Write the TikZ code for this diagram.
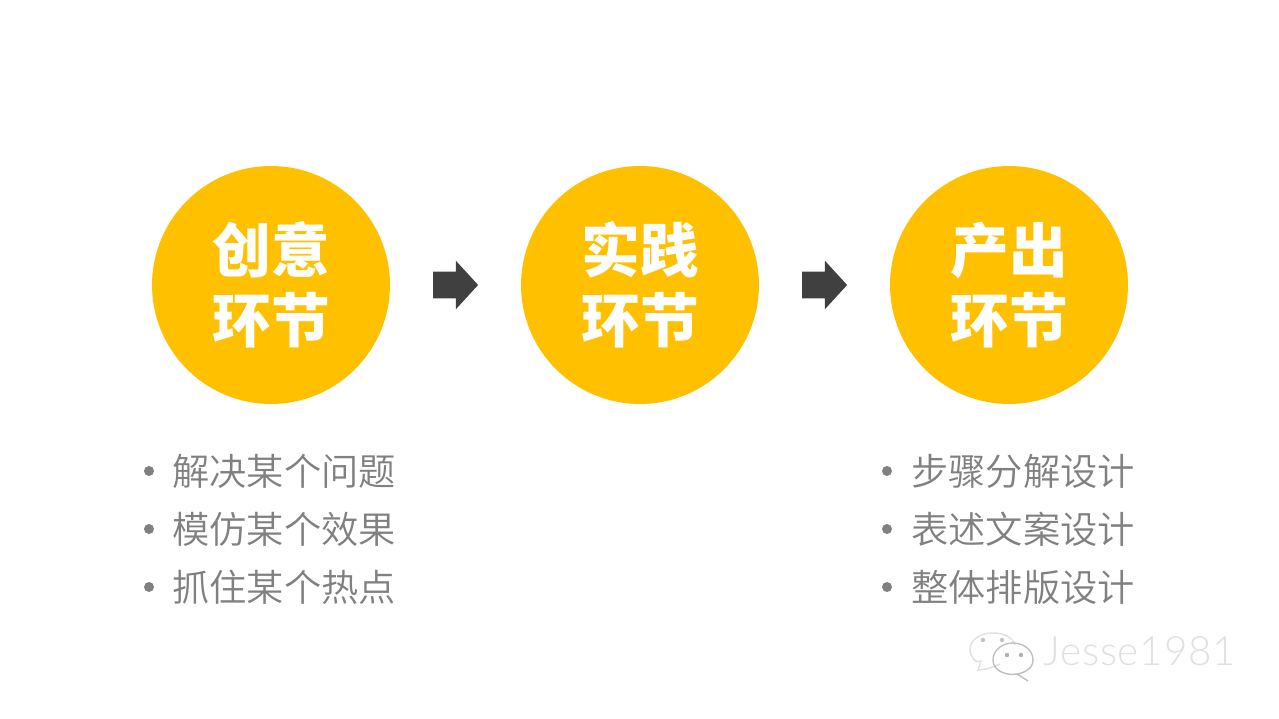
\documentclass[tikz,border=0pt]{standalone}
\usepackage{fontspec}
\setmainfont{Noto Sans CJK SC}
\newfontfamily\cjkheavy{Noto Sans CJK SC}[UprightFont=* Black]
\newfontfamily\cjklight{Noto Sans CJK SC}[UprightFont=* DemiLight]
\newfontfamily\markfont{Lato}[UprightFont=* Light,LetterSpace=2]
\usetikzlibrary{shapes.arrows}
\definecolor{stepyellow}{HTML}{FFC000}
\definecolor{listgray}{HTML}{808080}
\definecolor{arrowgray}{HTML}{404040}
\definecolor{markgray}{HTML}{E0E0E0}

\begin{document}
\begin{tikzpicture}[x=.02cm,y=-.02cm,
stepnode/.style={circle,fill=stepyellow,text=white,minimum size=4.76cm,inner sep=0pt,align=center,
font=\cjkheavy\fontsize{33.4}{39.8}\selectfont},
blockarrow/.style={single arrow,fill=arrowgray,inner sep=0pt,text height=.52cm,text depth=0pt,text width=0pt,
minimum height=.9cm,minimum width=.96cm,
single arrow head extend=.22cm,single arrow tip angle=95,single arrow head indent=0pt},
listitem/.style={anchor=west,inner sep=0pt,text=listgray,font=\cjklight\fontsize{21.2}{25}\selectfont},
listdot/.style={circle,fill=listgray,inner sep=0pt,minimum size=.2cm},
]
\useasboundingbox (0,0) rectangle (1279,719);
\node[stepnode] (C1) at (271,285) {创意\\环节};
\node[stepnode] (C2) at (640,285) {实践\\环节};
\node[stepnode] (C3) at (1009,285) {产出\\环节};
\node[blockarrow] (A1) at (449.5,285) {};
\node[blockarrow] (A2) at (818.5,285) {};
\node[listdot] (D1) at (149,471) {};
\node[listdot] (D2) at (149,529) {};
\node[listdot] (D3) at (149,587) {};
\node[listdot] (D4) at (887,471) {};
\node[listdot] (D5) at (887,529) {};
\node[listdot] (D6) at (887,587) {};
\node[listitem] (L1) at (172,471) {解决某个问题};
\node[listitem] (L2) at (172,529) {模仿某个效果};
\node[listitem] (L3) at (172,587) {抓住某个热点};
\node[listitem] (L4) at (911,471) {步骤分解设计};
\node[listitem] (L5) at (911,529) {表述文案设计};
\node[listitem] (L6) at (911,587) {整体排版设计};
% watermark
\node[anchor=west,inner sep=0pt,text=markgray,font=\markfont\fontsize{23}{28}\selectfont] (M) at (1043,651) {Jesse1981};
\draw[markgray,line width=.8pt] (1000,664) to[bend left=10] (978,670) -- (981,661)
  to[out=215,in=270] (970,650) to[out=90,in=180] (992,633) to[out=0,in=110] (1015,645);
\draw[gray!50,line width=.8pt] (1028,681) -- (1017,674) to[out=190,in=270] (993,660)
  to[out=90,in=180] (1013,643) to[out=0,in=90] (1033,660) to[out=270,in=10] (1017,674);
\fill[markgray!70!gray] (983,640) circle (2.2) (1002,640) circle (2.2);
\fill[markgray!50!gray] (1007,655) circle (2.2) (1021,655) circle (2.2);
\end{tikzpicture}
\end{document}
